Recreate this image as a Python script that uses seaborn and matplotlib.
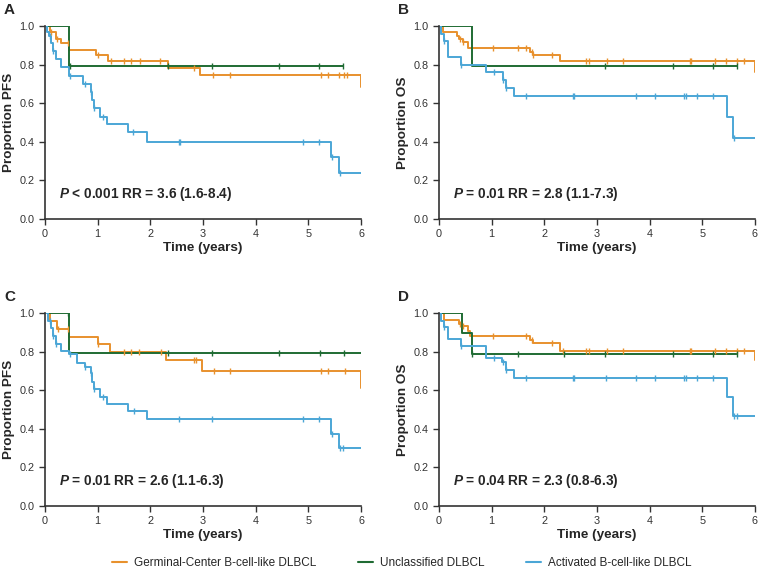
import seaborn as sns
import matplotlib.pyplot as plt
import pandas as pd
import numpy as np
from matplotlib.lines import Line2D

groups = ["Germinal-Center B-cell-like DLBCL", "Unclassified DLBCL", "Activated B-cell-like DLBCL"]
colors = ["#E8912D", "#1F6B33", "#4BA6D6"]

# ---- Panel A (PFS) ----
a_gcb_t = [0, 0.1, 0.2, 0.3, 0.45, 0.97, 1.2, 2.33, 2.95, 6.0]
a_gcb_s = [1.0, 0.97, 0.935, 0.91, 0.875, 0.85, 0.82, 0.78, 0.745, 0.685]
a_gcb_c = [0.12, 0.22, 0.44, 1.01, 1.25, 1.5, 1.63, 1.8, 2.19, 2.83, 3.19, 3.52, 5.23, 5.38, 5.58, 5.67, 5.73]
a_unc_t = [0, 0.46, 5.65]
a_unc_s = [1.0, 0.795, 0.795]
a_unc_c = [0.47, 2.33, 3.17, 4.45, 5.2, 5.65]
a_abc_t = [0, 0.03, 0.08, 0.12, 0.15, 0.2, 0.3, 0.46, 0.73, 0.87, 0.9, 0.93, 1.05, 1.18, 1.57, 1.93, 5.43, 5.58, 6.0]
a_abc_s = [1.0, 0.97, 0.95, 0.91, 0.87, 0.83, 0.785, 0.74, 0.70, 0.66, 0.615, 0.575, 0.53, 0.49, 0.45, 0.40, 0.32, 0.24, 0.24]
a_abc_c = [0.1, 0.15, 0.47, 0.75, 0.88, 0.93, 1.1, 1.67, 2.55, 2.56, 4.9, 5.2, 5.45, 5.6]

# ---- Panel B (OS) ----
b_gcb_t = [0, 0.07, 0.35, 0.39, 0.45, 0.55, 1.73, 1.78, 2.3, 6.0]
b_gcb_s = [1.0, 0.97, 0.95, 0.93, 0.915, 0.885, 0.865, 0.85, 0.82, 0.76]
b_gcb_c = [0.4, 0.45, 1.02, 1.5, 1.65, 1.77, 1.78, 2.15, 2.8, 2.85, 3.2, 3.5, 4.77, 4.79, 5.25, 5.45, 5.65, 5.8]
b_unc_t = [0, 0.63, 5.65]
b_unc_s = [1.0, 0.795, 0.795]
b_unc_c = [3.15, 4.45, 5.2, 5.65]
b_abc_t = [0, 0.04, 0.1, 0.17, 0.42, 0.9, 1.22, 1.27, 1.42, 5.46, 5.58, 6.0]
b_abc_s = [1.0, 0.96, 0.92, 0.84, 0.80, 0.76, 0.72, 0.68, 0.635, 0.53, 0.42, 0.42]
b_abc_c = [0.1, 0.42, 1.04, 1.22, 1.27, 1.66, 2.55, 2.57, 3.75, 4.1, 4.65, 4.7, 4.9, 5.2, 5.6]

# ---- Panel C (PFS) ----
c_gcb_t = [0, 0.1, 0.22, 0.45, 1.0, 1.24, 2.3, 2.98, 6.0]
c_gcb_s = [1.0, 0.96, 0.915, 0.875, 0.84, 0.80, 0.755, 0.70, 0.61]
c_gcb_c = [0.25, 0.43, 1.0, 1.5, 1.63, 1.78, 2.2, 2.83, 2.87, 3.2, 3.52, 5.23, 5.38, 5.7]
c_unc_t = [0, 0.46, 6.0]
c_unc_s = [1.0, 0.795, 0.795]
c_unc_c = [0.44, 2.33, 3.17, 4.45, 5.22, 5.67]
c_abc_t = [0, 0.05, 0.12, 0.15, 0.2, 0.3, 0.46, 0.6, 0.75, 0.88, 0.9, 0.93, 1.05, 1.18, 1.57, 1.93, 5.43, 5.58, 6.0]
c_abc_s = [1.0, 0.96, 0.92, 0.88, 0.84, 0.805, 0.79, 0.74, 0.72, 0.69, 0.645, 0.605, 0.565, 0.53, 0.49, 0.45, 0.375, 0.30, 0.30]
c_abc_c = [0.1, 0.15, 0.2, 0.47, 0.75, 0.88, 0.93, 1.1, 1.68, 2.55, 3.17, 4.9, 5.2, 5.45, 5.6, 5.65]

# ---- Panel D (OS) ----
d_gcb_t = [0, 0.1, 0.38, 0.42, 0.55, 0.6, 1.73, 1.78, 2.3, 6.0]
d_gcb_s = [1.0, 0.965, 0.945, 0.93, 0.905, 0.88, 0.86, 0.845, 0.805, 0.755]
d_gcb_c = [0.4, 0.45, 1.02, 1.65, 1.77, 2.15, 2.35, 2.8, 2.85, 3.2, 3.5, 4.77, 4.79, 5.25, 5.45, 5.65, 5.8]
d_unc_t = [0, 0.43, 0.63, 5.65]
d_unc_s = [1.0, 0.895, 0.79, 0.79]
d_unc_c = [0.63, 1.5, 2.37, 3.15, 4.45, 5.2, 5.65]
d_abc_t = [0, 0.04, 0.1, 0.17, 0.42, 0.9, 1.2, 1.27, 1.42, 5.46, 5.58, 6.0]
d_abc_s = [1.0, 0.96, 0.925, 0.865, 0.83, 0.765, 0.745, 0.705, 0.665, 0.565, 0.465, 0.465]
d_abc_c = [0.1, 0.42, 1.04, 1.22, 1.27, 1.66, 2.55, 2.57, 3.17, 3.75, 4.1, 4.65, 4.7, 4.9, 5.2, 5.6, 5.65]

panel_letters = ["A", "B", "C", "D"]
ylabels = ["Proportion PFS", "Proportion OS", "Proportion PFS", "Proportion OS"]
stats = [("< 0.001", "3.6 (1.6-8.4)"), ("= 0.01", "2.8 (1.1-7.3)"),
         ("= 0.01", "2.6 (1.1-6.3)"), ("= 0.04", "2.3 (0.8-6.3)")]

panels = [
    [(a_gcb_t, a_gcb_s, a_gcb_c), (a_unc_t, a_unc_s, a_unc_c), (a_abc_t, a_abc_s, a_abc_c)],
    [(b_gcb_t, b_gcb_s, b_gcb_c), (b_unc_t, b_unc_s, b_unc_c), (b_abc_t, b_abc_s, b_abc_c)],
    [(c_gcb_t, c_gcb_s, c_gcb_c), (c_unc_t, c_unc_s, c_unc_c), (c_abc_t, c_abc_s, c_abc_c)],
    [(d_gcb_t, d_gcb_s, d_gcb_c), (d_unc_t, d_unc_s, d_unc_c), (d_abc_t, d_abc_s, d_abc_c)],
]

sns.set_style("ticks")
plt.rcParams['font.family'] = ['Liberation Sans', 'DejaVu Sans']
plt.rcParams['mathtext.fontset'] = 'custom'
plt.rcParams['mathtext.it'] = 'Liberation Sans:bold:italic'
plt.rcParams['mathtext.rm'] = 'Liberation Sans:bold'

fig = plt.figure(figsize=(7.58, 5.85), dpi=100)
positions = [(0.0594, 0.6256, 0.417, 0.33), (0.579, 0.6256, 0.417, 0.33),
             (0.0594, 0.135, 0.417, 0.33), (0.579, 0.135, 0.417, 0.33)]


def surv_at(times, surv, t):
    idx = np.searchsorted(times, t, side="right") - 1
    return np.asarray(surv)[idx]


for i, pos in enumerate(positions):
    ax = fig.add_axes(pos)
    for g, (t, s, c) in enumerate(panels[i]):
        df = pd.DataFrame({"time": t, "surv": s})
        sns.lineplot(data=df, x="time", y="surv", ax=ax, color=colors[g], lw=1.4,
                     drawstyle="steps-post", estimator=None, sort=False)
        cdf = pd.DataFrame({"time": c, "surv": surv_at(np.array(t), s, np.array(c))})
        sns.scatterplot(data=cdf, x="time", y="surv", ax=ax, color=colors[g], marker="|",
                        s=22, linewidth=1.0, zorder=3)
    ax.set_xlim(0, 6)
    ax.set_ylim(0, 1.0)
    ax.set_xticks(range(7))
    ax.set_yticks(np.arange(0, 1.01, 0.2))
    ax.set_yticklabels([f"{v:.1f}" for v in np.arange(0, 1.01, 0.2)])
    ax.tick_params(labelsize=7.8, colors="#333333", length=4, width=1)
    ax.set_xlabel("Time (years)", fontsize=9.7, fontweight="bold", labelpad=2)
    ax.set_ylabel(ylabels[i], fontsize=9.7, fontweight="bold", labelpad=3)
    sns.despine(ax=ax)
    for sp in ["left", "bottom"]:
        ax.spines[sp].set_linewidth(1.2)
        ax.spines[sp].set_color("#333333")
    p, rr = stats[i]
    ax.text(0.27, 0.085, f"$P$ {p} RR = {rr}", fontsize=9.8, fontweight="bold", va="bottom")
    ax.text(-0.13, 1.045, panel_letters[i], transform=ax.transAxes, fontsize=11,
            fontweight="bold", va="bottom", ha="left")

handles = [Line2D([0], [0], color=col, lw=1.5) for col in colors]
fig.legend(handles, groups, loc="center", bbox_to_anchor=(0.53, 0.038), ncol=3,
           frameon=False, fontsize=8.5, handlelength=1.3, columnspacing=3.5, handletextpad=0.6)

fig.savefig("out.png", dpi=100)
